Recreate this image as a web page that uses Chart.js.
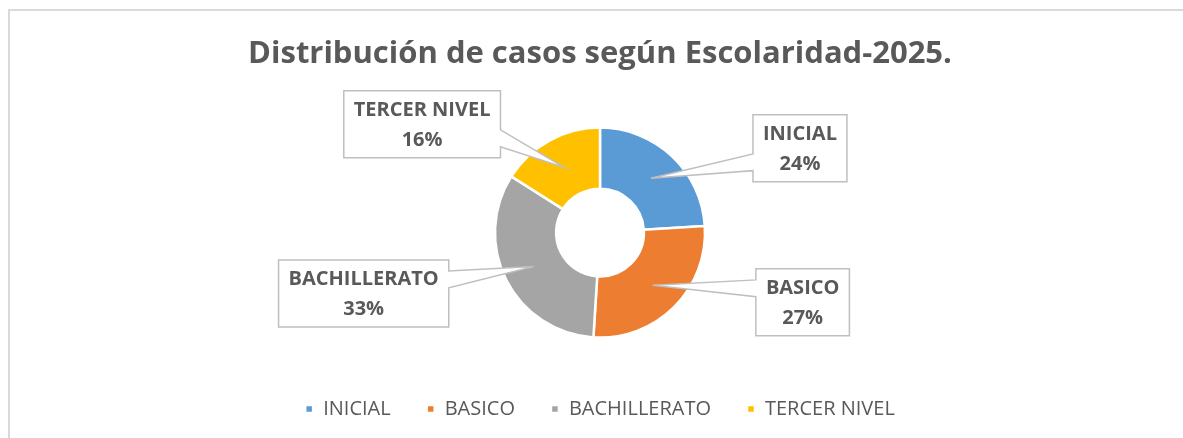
<!DOCTYPE html>
<html lang="es">
<head>
<meta charset="utf-8">
<title>Distribución de casos según Escolaridad-2025</title>
<script src="https://cdn.jsdelivr.net/npm/chart.js@4.4.1/dist/chart.umd.min.js"></script>
<style>
  html, body { margin: 0; padding: 0; background: #fff; overflow: hidden; }
  .frame {
    position: absolute; left: 8px; top: 9px;
    width: 1300px; height: 600px;
    border: 2px solid #d9d9d9;
  }
  #chart { position: absolute; left: 0; top: 0; }
</style>
</head>
<body>
<div class="frame"></div>
<canvas id="chart" width="1183" height="438"></canvas>
<script>
// ─── Data ─────────────────────────────────────────────────────────────────────

const TITLE = 'Distribución de casos según Escolaridad-2025.';
const categories = ['INICIAL', 'BASICO', 'BACHILLERATO', 'TERCER NIVEL'];
const shares = [24, 27, 33, 16];
const sliceColors = ['#5b9bd5', '#ed7d31', '#a5a5a5', '#ffc000'];

// where each callout box sits, relative to the point it points at
const calloutOffsets = [[149, -30], [150, 17], [-170, 27], [-142, -43]];

const TEXT = '#595959';
const FONT = '"Open Sans", "Noto Sans", sans-serif';

// ─── Callout labels (Excel style wedge boxes) ─────────────────────────────────

const calloutPlugin = {
  id: 'callouts',
  afterDatasetsDraw(chart) {
    const ctx = chart.ctx;
    const meta = chart.getDatasetMeta(0);
    const total = shares.reduce((a, b) => a + b, 0);

    meta.data.forEach((arc, i) => {
      const p = arc.getProps(['x', 'y', 'startAngle', 'endAngle', 'innerRadius', 'outerRadius'], true);
      const mid = (p.startAngle + p.endAngle) / 2;
      const r = (p.innerRadius + p.outerRadius) / 2;
      const tx = p.x + Math.cos(mid) * r;
      const ty = p.y + Math.sin(mid) * r;

      const lines = [categories[i], Math.round(shares[i] / total * 100) + '%'];
      ctx.save();
      ctx.font = `700 20px ${FONT}`;
      const w = Math.max(...lines.map(l => ctx.measureText(l).width)) + 20;
      const h = 67;
      const cx = tx + calloutOffsets[i][0];
      const cy = ty + calloutOffsets[i][1];
      const L = cx - w / 2, R = cx + w / 2, T = cy - h / 2, B = cy + h / 2;

      // wedge base on the side facing the tip
      const f = ty > cy ? [7 / 12, 10 / 12] : [2 / 12, 5 / 12];
      const y1 = T + h * f[0], y2 = T + h * f[1];

      ctx.beginPath();
      ctx.moveTo(L, T);
      ctx.lineTo(R, T);
      if (tx > R) {
        ctx.lineTo(R, y1); ctx.lineTo(tx, ty); ctx.lineTo(R, y2);
      }
      ctx.lineTo(R, B);
      ctx.lineTo(L, B);
      if (tx < L) {
        ctx.lineTo(L, y2); ctx.lineTo(tx, ty); ctx.lineTo(L, y1);
      }
      ctx.closePath();
      ctx.fillStyle = '#fff';
      ctx.fill();
      ctx.lineWidth = 1.5;
      ctx.strokeStyle = '#bfbfbf';
      ctx.stroke();

      ctx.fillStyle = TEXT;
      ctx.textAlign = 'center';
      ctx.textBaseline = 'middle';
      ctx.fillText(lines[0], cx, cy - 14);
      ctx.fillText(lines[1], cx, cy + 16);
      ctx.restore();
    });
  },
};

// ─── Chart ────────────────────────────────────────────────────────────────────

new Chart(document.getElementById('chart'), {
  type: 'doughnut',
  data: {
    labels: categories,
    datasets: [{
      data: shares,
      backgroundColor: sliceColors,
      borderColor: '#fff',
      borderWidth: 2.5,
    }],
  },
  options: {
    responsive: false,
    animation: false,
    radius: 105,
    cutout: 54,
    layout: { padding: { left: 17, bottom: 9 } },
    plugins: {
      title: {
        display: true,
        text: TITLE,
        color: TEXT,
        font: { family: FONT, size: 31, weight: '700' },
        padding: { top: 36, bottom: 29 },
      },
      legend: {
        position: 'bottom',
        labels: {
          color: TEXT,
          font: { family: FONT, size: 20 },
          boxWidth: 8,
          boxHeight: 8,
          padding: 36,
        },
      },
      tooltip: { enabled: false },
    },
  },
  plugins: [calloutPlugin],
});
</script>
</body>
</html>
